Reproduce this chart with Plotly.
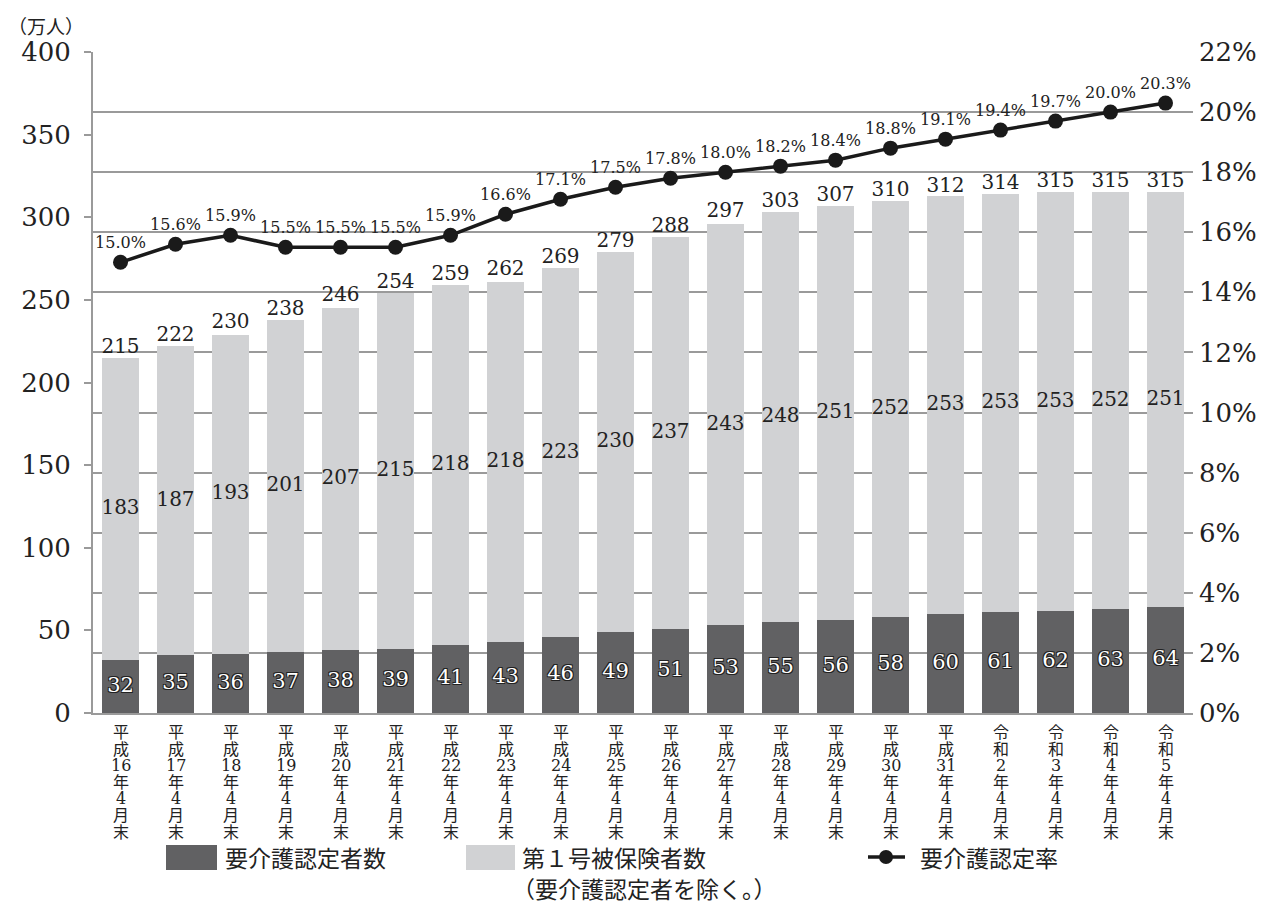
import plotly.graph_objects as go

eras = ["平成"] * 16 + ["令和"] * 4
years = ["16", "17", "18", "19", "20", "21", "22", "23", "24", "25", "26", "27",
         "28", "29", "30", "31", "2", "3", "4", "5"]
categories = [f"{e}{y}年4月末" for e, y in zip(eras, years)]

care_certified = [32, 35, 36, 37, 38, 39, 41, 43, 46, 49, 51, 53, 55, 56, 58, 60, 61, 62, 63, 64]
insured_other = [183, 187, 193, 201, 207, 215, 218, 218, 223, 230, 237, 243, 248, 251, 252, 253, 253, 253, 252, 251]
totals = [215, 222, 230, 238, 246, 254, 259, 262, 269, 279, 288, 297, 303, 307, 310, 312, 314, 315, 315, 315]
rate = [15.0, 15.6, 15.9, 15.5, 15.5, 15.5, 15.9, 16.6, 17.1, 17.5, 17.8, 18.0, 18.2, 18.4, 18.8, 19.1, 19.4, 19.7, 20.0, 20.3]

SERIF = "DejaVu Serif, Noto Sans CJK JP"
CJK = "Noto Sans CJK JP"
DARK = "#616163"
LIGHT = "#d1d2d4"
GRID = "#9a9a9a"

fig = go.Figure()
fig.add_trace(go.Bar(x=categories, y=care_certified, marker=dict(color=DARK, line_width=0),
                     name="要介護認定者数", hoverinfo="skip"))
fig.add_trace(go.Bar(x=categories, y=insured_other, marker=dict(color=LIGHT, line_width=0),
                     name="第1号被保険者数（要介護認定者を除く。）", hoverinfo="skip"))

# labels inside dark segment
fig.add_trace(go.Scatter(x=categories, y=[d / 2 for d in care_certified], mode="text",
                         text=[str(v) for v in care_certified],
                         textfont=dict(family=SERIF, size=21, color="white",
                                       shadow="-1px -1px 0 #222, 1px -1px 0 #222, -1px 1px 0 #222, 1px 1px 0 #222"),
                         textposition="middle center", hoverinfo="skip", showlegend=False))
# labels inside light segment
fig.add_trace(go.Scatter(x=categories, y=[d + l / 2 for d, l in zip(care_certified, insured_other)],
                         mode="text", text=[str(v) for v in insured_other],
                         textfont=dict(family=SERIF, size=20, color="#222"),
                         textposition="middle center", hoverinfo="skip", showlegend=False))
# totals above bars
fig.add_trace(go.Scatter(x=categories, y=totals, mode="text", text=[str(v) for v in totals],
                         textfont=dict(family=SERIF, size=20, color="#222"),
                         textposition="top center", hoverinfo="skip", showlegend=False))
# rate line
fig.add_trace(go.Scatter(x=categories, y=rate, yaxis="y2", mode="lines+markers+text",
                         line=dict(color="#1a1a1a", width=3.5),
                         marker=dict(color="#1a1a1a", size=15),
                         text=[f"{v:.1f}%" for v in rate], textposition="top center",
                         textfont=dict(family=SERIF, size=16, color="#222"),
                         name="要介護認定率", hoverinfo="skip"))

# the page body adds an 8px offset; figure is sized so the plot area lands on the reference pixels
fig.update_layout(
    width=1261, height=903,
    margin=dict(l=85, r=76, t=44, b=198, autoexpand=False),
    paper_bgcolor="white", plot_bgcolor="white",
    barmode="stack", bargap=0.345,
    showlegend=False,
    font=dict(family=SERIF, color="#222"),
    xaxis=dict(showticklabels=False, automargin=False, range=[-0.5, len(categories) - 0.5],
               showline=True, linecolor=GRID, linewidth=2, showgrid=False, ticks=""),
    yaxis=dict(range=[0, 400], dtick=50, showgrid=False, zeroline=False, automargin=False,
               showline=True, linecolor=GRID, linewidth=2,
               ticks="outside", ticklen=7, tickcolor=GRID, tickwidth=2, ticklabelstandoff=8,
               tickfont=dict(family=SERIF, size=26, color="#222")),
    yaxis2=dict(range=[0, 22], dtick=2, ticksuffix="%", overlaying="y", side="right",
                showgrid=True, gridcolor=GRID, gridwidth=2, zeroline=False, automargin=False,
                showline=False, ticks="", ticklabelstandoff=5,
                tickfont=dict(family=SERIF, size=26, color="#222")),
)

# paper coordinates from page pixels (plot area spans x 93..1193, y 52..713 on the page)
W, H = 1100.0, 661.0
def px(X):
    return (X - 93) / W
def py(Y):
    return (713 - Y) / H

annotations = []
# vertical category labels, one character per line
for cat, era, yr in zip(categories, eras, years):
    parts = [era[0], era[1], yr, "年", "4", "月", "末"]
    for k, p in enumerate(parts):
        annotations.append(dict(text=p, x=cat, xref="x", y=0, yref="paper", yanchor="top",
                                xanchor="center", yshift=-(8 + k * 16.6), showarrow=False,
                                font=dict(family=SERIF, size=16, color="#222")))

annotations += [
    dict(text="（万人）", x=px(46), y=py(25), xref="paper", yref="paper", showarrow=False,
         font=dict(family=CJK, size=19, color="#222"), xanchor="center", yanchor="middle"),
    dict(text="要介護認定者数", x=px(223), y=py(857), xref="paper", yref="paper", showarrow=False,
         font=dict(family=CJK, size=23, color="#222"), xanchor="left", yanchor="middle"),
    dict(text="第１号被保険者数", x=px(520), y=py(857), xref="paper", yref="paper", showarrow=False,
         font=dict(family=CJK, size=23, color="#222"), xanchor="left", yanchor="middle"),
    dict(text="（要介護認定者を除く。）", x=px(510), y=py(888), xref="paper", yref="paper", showarrow=False,
         font=dict(family=CJK, size=23, color="#222"), xanchor="left", yanchor="middle"),
    dict(text="要介護認定率", x=px(918), y=py(857), xref="paper", yref="paper", showarrow=False,
         font=dict(family=CJK, size=23, color="#222"), xanchor="left", yanchor="middle"),
]
shapes = [
    dict(type="rect", xref="paper", yref="paper", x0=px(166), x1=px(217), y0=py(870), y1=py(845),
         fillcolor=DARK, line_width=0),
    dict(type="rect", xref="paper", yref="paper", x0=px(466), x1=px(515), y0=py(870), y1=py(845),
         fillcolor=LIGHT, line_width=0),
    dict(type="line", xref="paper", yref="paper", x0=px(868), x1=px(905), y0=py(857), y1=py(857),
         line=dict(color="#1a1a1a", width=3.5)),
    dict(type="circle", xref="paper", yref="paper", x0=px(879), x1=px(893), y0=py(864), y1=py(850),
         fillcolor="#1a1a1a", line_width=0),
]
fig.update_layout(annotations=annotations, shapes=shapes)

fig.write_html("out.html")
